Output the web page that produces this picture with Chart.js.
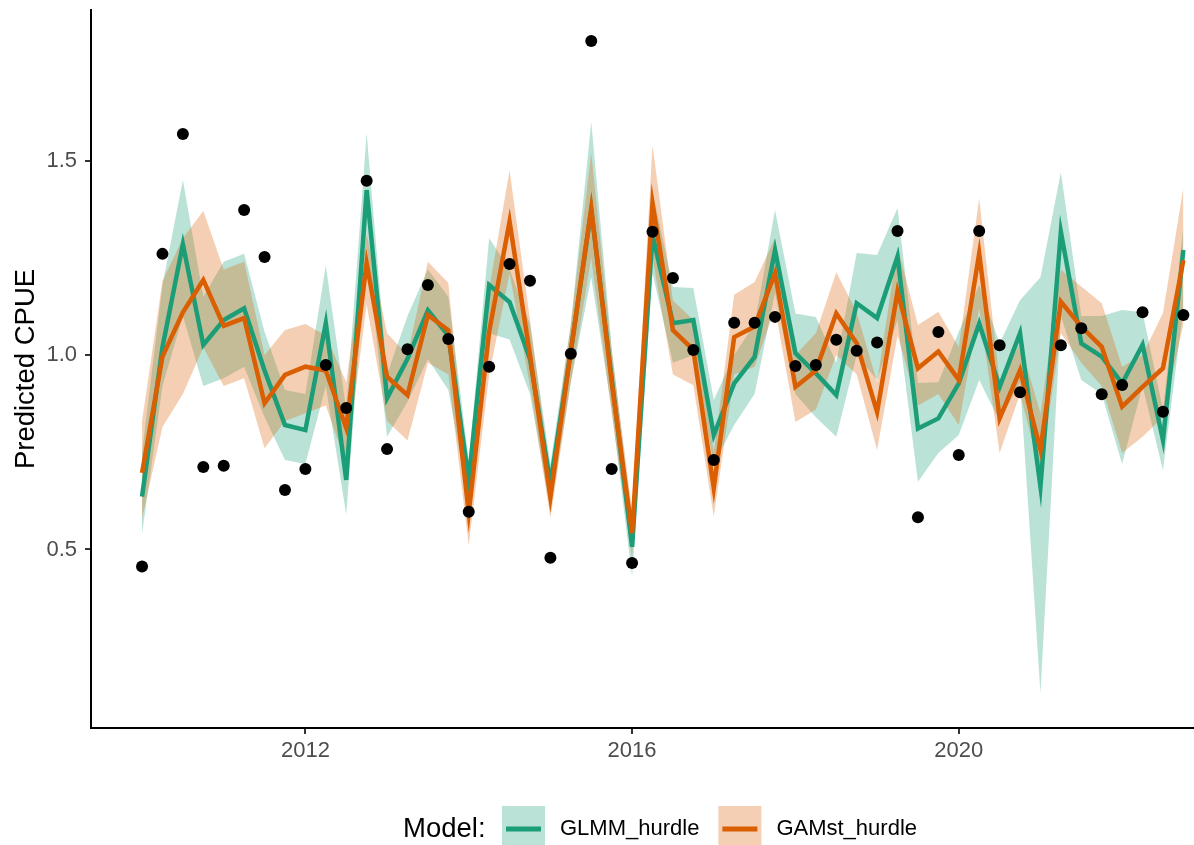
<!DOCTYPE html>
<html>
<head>
<meta charset="utf-8">
<script src="https://cdn.jsdelivr.net/npm/chart.js@4.4.1/dist/chart.umd.min.js"></script>
<style>
  body { margin: 0; background: #fff; }
  #wrap { width: 1194px; height: 845px; }
</style>
</head>
<body>
<div id="wrap"><canvas id="cpueChart" width="1194" height="845"></canvas></div>
<script>
// quarterly time steps
const time = [2010, 2010.25, 2010.5, 2010.75, 2011, 2011.25, 2011.5, 2011.75,
  2012, 2012.25, 2012.5, 2012.75, 2013, 2013.25, 2013.5, 2013.75,
  2014, 2014.25, 2014.5, 2014.75, 2015, 2015.25, 2015.5, 2015.75,
  2016, 2016.25, 2016.5, 2016.75, 2017, 2017.25, 2017.5, 2017.75,
  2018, 2018.25, 2018.5, 2018.75, 2019, 2019.25, 2019.5, 2019.75,
  2020, 2020.25, 2020.5, 2020.75, 2021, 2021.25, 2021.5, 2021.75,
  2022, 2022.25, 2022.5, 2022.75];

// observed (black dots)
const observed = [0.456, 1.26, 1.568, 0.712, 0.715, 1.373, 1.252, 0.653, 0.707, 0.974,
  0.864, 1.448, 0.758, 1.015, 1.18, 1.041, 0.597, 0.97, 1.234, 1.191,
  0.479, 1.003, 1.807, 0.707, 0.465, 1.317, 1.198, 1.013, 0.73, 1.083,
  1.083, 1.098, 0.972, 0.974, 1.039, 1.011, 1.032, 1.319, 0.583, 1.059,
  0.743, 1.319, 1.025, 0.904, null, 1.025, 1.069, 0.899, 0.923, 1.11,
  0.854, 1.103];

const glmm = [0.636, 1.02, 1.285, 1.026, 1.09, 1.12, 0.96, 0.82, 0.807, 1.082,
  0.679, 1.424, 0.889, 0.99, 1.115, 1.05, 0.679, 1.18, 1.136, 0.99,
  0.67, 1.01, 1.373, 0.94, 0.507, 1.308, 1.082, 1.09, 0.794, 0.927,
  0.995, 1.27, 1.005, 0.953, 0.897, 1.133, 1.095, 1.253, 0.811, 0.837,
  0.927, 1.081, 0.918, 1.056, 0.661, 1.317, 1.03, 0.996, 0.927, 1.026,
  0.781, 1.27];
const glmmLo = [0.54, 0.92, 1.1, 0.92, 0.94, 0.97, 0.84, 0.73, 0.72, 0.92,
  0.59, 1.28, 0.79, 0.88, 0.99, 0.91, 0.62, 1.056, 1.04, 0.9,
  0.6, 0.93, 1.2, 0.86, 0.43, 1.21, 0.98, 1.0, 0.72, 0.82,
  0.9, 1.16, 0.9, 0.84, 0.79, 1.0, 0.936, 1.09, 0.674, 0.748,
  0.794, 0.936, 0.83, 0.93, 0.131, 1.1, 0.936, 0.9, 0.72, 0.92,
  0.704, 1.12];
const glmmHi = [0.75, 1.18, 1.45, 1.15, 1.24, 1.26, 1.06, 0.91, 0.9, 1.23,
  0.86, 1.57, 0.95, 1.1, 1.22, 1.15, 0.73, 1.3, 1.22, 1.08,
  0.72, 1.08, 1.6, 1.02, 0.57, 1.42, 1.175, 1.172, 0.884, 1.0,
  1.08, 1.373, 1.107, 1.098, 0.98, 1.262, 1.257, 1.378, 0.928, 0.93,
  1.06, 1.18, 1.03, 1.141, 1.2, 1.47, 1.1, 1.1, 1.116, 1.11,
  0.86, 1.33];

const gam = [0.697, 0.996, 1.11, 1.193, 1.075, 1.095, 0.876, 0.949, 0.97, 0.96,
  0.812, 1.236, 0.944, 0.897, 1.103, 1.064, 0.594, 1.06, 1.343, 1.0,
  0.635, 1.01, 1.377, 0.93, 0.542, 1.39, 1.064, 1.013, 0.658, 1.046,
  1.073, 1.21, 0.918, 0.96, 1.107, 1.03, 0.853, 1.163, 0.966, 1.009,
  0.936, 1.261, 0.837, 0.961, 0.756, 1.137, 1.073, 1.021, 0.867, 0.918,
  0.966, 1.244];
const gamLo = [0.58, 0.815, 0.9, 1.02, 0.92, 0.94, 0.76, 0.83, 0.85, 0.87,
  0.72, 1.13, 0.83, 0.78, 0.98, 0.95, 0.51, 0.95, 1.21, 0.92,
  0.58, 0.93, 1.25, 0.85, 0.48, 1.25, 0.95, 0.922, 0.584, 0.95,
  0.97, 1.12, 0.828, 0.86, 1.0, 0.95, 0.756, 1.05, 0.87, 0.9,
  0.82, 1.12, 0.748, 0.9, 0.7, 1.056, 0.98, 0.92, 0.748, 0.79,
  0.84, 1.08];
const gamHi = [0.83, 1.19, 1.3, 1.37, 1.22, 1.24, 1.0, 1.064, 1.08, 1.05,
  0.93, 1.31, 1.056, 1.0, 1.24, 1.185, 0.65, 1.17, 1.475, 1.09,
  0.69, 1.08, 1.52, 1.01, 0.6, 1.54, 1.14, 1.09, 0.75, 1.155,
  1.188, 1.3, 1.0, 1.056, 1.213, 1.11, 0.93, 1.278, 1.077, 1.111,
  1.02, 1.403, 0.93, 1.03, 0.85, 1.219, 1.176, 1.133, 0.97, 1.0,
  1.108, 1.43];

const xTicks = [2012, 2016, 2020];
const yTicks = [0.5, 1.0, 1.5];

const GREEN = '#1B9E77';
const ORANGE = '#D95F02';
const GREEN_FILL = 'rgba(27,158,119,0.3)';
const ORANGE_FILL = 'rgba(217,95,2,0.3)';
const FONT = '"Liberation Sans", Arial, Helvetica, sans-serif';

const pts = arr => time.map((t, i) => ({ x: t, y: arr[i] }));

const band = (data, color, fill, order) => ({
  data: pts(data), borderWidth: 0, pointRadius: 0, backgroundColor: color,
  fill: fill, order: order, tension: 0
});

// custom ggplot-style legend at the bottom: "Model:" + keys
const bottomLegend = {
  id: 'bottomLegend',
  afterDraw(chart) {
    const ctx = chart.ctx;
    const y = 829;
    ctx.save();
    ctx.textBaseline = 'middle';
    ctx.fillStyle = '#000';
    ctx.font = '27.5px ' + FONT;
    ctx.fillText('Model:', 403, y);
    const keys = chart.data.datasets.filter(d => d.legendKey);
    let x = 502;
    keys.forEach(d => {
      ctx.fillStyle = d.legendKey;
      ctx.fillRect(x, 806, 43, 44);
      ctx.strokeStyle = d.borderColor;
      ctx.lineWidth = 5;
      ctx.beginPath();
      ctx.moveTo(x + 4, y);
      ctx.lineTo(x + 39, y);
      ctx.stroke();
      ctx.fillStyle = '#000';
      ctx.font = '22px ' + FONT;
      ctx.fillText(d.label, x + 58, y);
      x += 58 + ctx.measureText(d.label).width + 19;
    });
    ctx.restore();
  }
};

const ctx = document.getElementById('cpueChart').getContext('2d');
const cpueChart = new Chart(ctx, {
  type: 'line',
  data: {
    datasets: [
      band(glmmLo, GREEN_FILL, false, 6),
      band(glmmHi, GREEN_FILL, '-1', 5),
      band(gamLo, ORANGE_FILL, false, 4),
      band(gamHi, ORANGE_FILL, '-1', 3),
      {
        label: 'GLMM_hurdle', data: pts(glmm), borderColor: GREEN, borderWidth: 4.5,
        pointRadius: 0, fill: false, tension: 0, order: 2, legendKey: GREEN_FILL,
        borderJoinStyle: 'miter'
      },
      {
        label: 'GAMst_hurdle', data: pts(gam), borderColor: ORANGE, borderWidth: 4.5,
        pointRadius: 0, fill: false, tension: 0, order: 1, legendKey: ORANGE_FILL,
        borderJoinStyle: 'miter'
      },
      {
        label: 'Observed', data: pts(observed), showLine: false, pointRadius: 6,
        pointBackgroundColor: '#000', pointBorderWidth: 0, order: 0
      }
    ]
  },
  options: {
    responsive: false,
    animation: false,
    layout: { autoPadding: false, padding: { top: 10, right: 0, left: 0, bottom: 0 } },
    plugins: {
      legend: { display: false },
      tooltip: { enabled: false }
    },
    scales: {
      x: {
        type: 'linear', min: 2009.375, max: 2022.88,
        afterBuildTicks: axis => { axis.ticks = xTicks.map(v => ({ value: v })); },
        afterFit: scale => { scale.height = 117; scale.paddingLeft = 0; scale.paddingRight = 0; },
        grid: { drawOnChartArea: false, drawTicks: true, tickLength: 6, color: '#333', lineWidth: 2 },
        border: { display: true, color: '#000', width: 2 },
        ticks: { color: '#4D4D4D', font: { size: 22, family: FONT }, padding: 4, maxRotation: 0,
          callback: v => String(v) }
      },
      y: {
        min: 0.041, max: 1.887,
        afterBuildTicks: axis => { axis.ticks = yTicks.map(v => ({ value: v })); },
        afterFit: scale => { scale.width = 91; scale.paddingTop = 0; scale.paddingBottom = 0; },
        grid: { drawOnChartArea: false, drawTicks: true, tickLength: 6, color: '#333', lineWidth: 2 },
        border: { display: true, color: '#000', width: 2 },
        ticks: { color: '#4D4D4D', font: { size: 22, family: FONT }, padding: 8,
          callback: v => v.toFixed(1) },
        title: { display: true, text: 'Predicted CPUE', color: '#000',
          font: { size: 27.5, family: FONT }, padding: { top: 10, bottom: 0 } }
      }
    }
  },
  plugins: [bottomLegend]
});
</script>
</body>
</html>
